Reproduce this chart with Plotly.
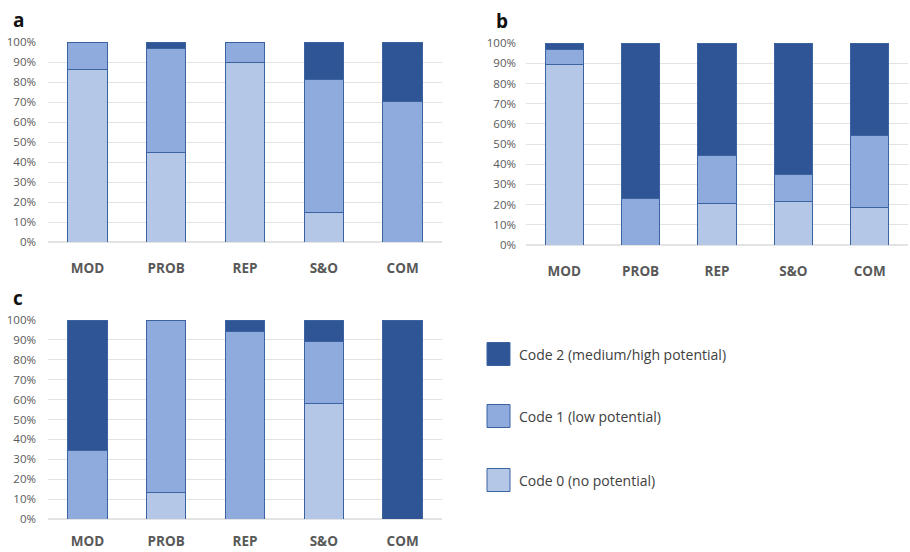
import plotly.graph_objects as go

W, H = 910, 552

categories = ["MOD", "PROB", "REP", "S&O", "COM"]
series_names = ["Code 0 (no potential)", "Code 1 (low potential)", "Code 2 (medium/high potential)"]
series_colors = ["#B4C7E7", "#8FAADC", "#2F5597"]
outline_color = "#3A63A0"

# Shares per panel (fractions), one list per code
a_code0 = [0.865, 0.45, 0.90, 0.15, 0.0]
a_code1 = [0.135, 0.52, 0.10, 0.665, 0.705]
a_code2 = [0.0, 0.03, 0.0, 0.185, 0.295]

b_code0 = [0.895, 0.0, 0.205, 0.215, 0.188]
b_code1 = [0.075, 0.23, 0.238, 0.134, 0.356]
b_code2 = [0.03, 0.77, 0.557, 0.651, 0.456]

c_code0 = [0.0, 0.134, 0.0, 0.583, 0.0]
c_code1 = [0.342, 0.866, 0.945, 0.31, 0.0]
c_code2 = [0.658, 0.0, 0.055, 0.107, 1.0]

y_ticks = [i / 10 for i in range(11)]
y_tick_text = [f"{i * 10}%" for i in range(11)]

panels = [
    ("a", [a_code0, a_code1, a_code2], (48, 442), (42, 242), "x", "y", 11, 16),
    ("b", [b_code0, b_code1, b_code2], (526, 908), (43, 245), "x2", "y2", 9, 16),
    ("c", [c_code0, c_code1, c_code2], (48, 442), (320, 519), "x3", "y3", 11, 12),
]

fig = go.Figure()
layout = {}
annotations = []

for label, codes, (px0, px1), (py0, py1), xa, ya, ystand, xstand in panels:
    for vals, name, col in zip(codes, series_names, series_colors):
        fig.add_trace(go.Bar(
            x=categories, y=vals, name=name, xaxis=xa, yaxis=ya,
            marker=dict(color=col, line=dict(color=outline_color, width=1)),
            width=0.5, showlegend=False,
        ))
    xkey = "xaxis" + xa[1:]
    ykey = "yaxis" + ya[1:]
    layout[xkey] = dict(
        domain=[px0 / W, px1 / W], anchor=ya, showgrid=False, zeroline=False,
        showline=False, ticks="", ticklabelstandoff=xstand, automargin=False,
        tickfont=dict(family="Open Sans", size=13.5, color="#595959", weight="bold"),
        categoryorder="array", categoryarray=categories,
    )
    layout[ykey] = dict(
        domain=[1 - py1 / H, 1 - py0 / H], anchor=xa, range=[0, 1.0005],
        tickvals=y_ticks, ticktext=y_tick_text, showgrid=True, automargin=False,
        gridcolor="#E3E3E3", gridwidth=1, zeroline=True, zerolinecolor="#E3E3E3",
        showline=False, ticks="", ticklabelstandoff=ystand,
        tickfont=dict(family="Open Sans", size=11.5, color="#595959"),
    )
    annotations.append(dict(
        text=f"<b>{label}</b>", xref="paper", yref="paper",
        x=(px0 - 30 if label != "b" else px0 - 24) / W, y=1 - (py0 - 22) / H,
        xanchor="center", yanchor="middle", showarrow=False,
        font=dict(family="Open Sans", size=19, color="#111111"),
    ))

# Legend drawn as swatches with labels, top item first
shapes = []
legend_rows = [(series_names[2], series_colors[2], 354),
               (series_names[1], series_colors[1], 416),
               (series_names[0], series_colors[0], 480)]
for name, col, cy in legend_rows:
    shapes.append(dict(
        type="rect", xref="paper", yref="paper",
        x0=487 / W, x1=510 / W, y0=1 - (cy + 11.5) / H, y1=1 - (cy - 11.5) / H,
        fillcolor=col, line=dict(color=outline_color, width=1),
    ))
    annotations.append(dict(
        text=name, xref="paper", yref="paper", x=517 / W, y=1 - cy / H,
        xanchor="left", yanchor="middle", showarrow=False,
        font=dict(family="Open Sans", size=14, color="#404040"),
    ))

fig.update_layout(
    width=W, height=H, margin=dict(l=0, r=0, t=0, b=0, autoexpand=False),
    paper_bgcolor="white", plot_bgcolor="white",
    barmode="stack", bargap=0.5, showlegend=False,
    annotations=annotations, shapes=shapes,
    **layout,
)

fig.write_html("out.html")
